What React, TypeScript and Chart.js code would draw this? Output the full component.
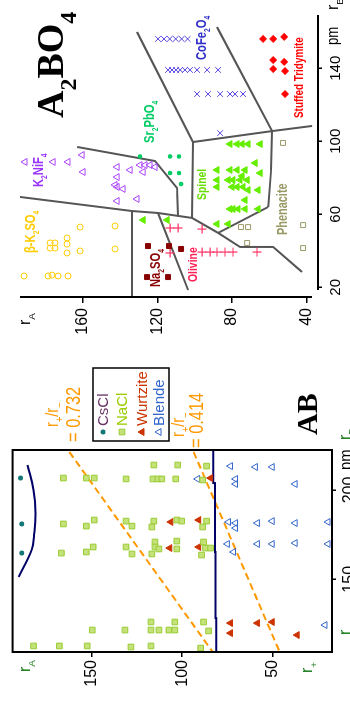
import React, { useEffect, useRef } from 'react';
import { Chart, registerables } from 'chart.js';
import { drawPoint } from 'chart.js/helpers';

Chart.register(...registerables);

// ---------------- AB panel (x: r_B / r_- in pm, y: r_A / r_+ in pm) ----------------
const abXTicks = [150, 200];
const abYTicks = [50, 100, 150];
const abLegendLabels = ['CsCl', 'NaCl', 'Wurtzite', 'Blende'];

const csclPts = [[206.7, 189.5], [181.0, 188.9], [164.7, 188.9]];
const naclPts = [
  [214.0, 115.7], [214.0, 102.5], [213.4, 86.5],
  [206.7, 165.8], [206.7, 153.1], [206.7, 148.7], [206.2, 131.1], [206.2, 116.2], [206.2, 113.5], [206.2, 111.3], [206.2, 103.6], [205.6, 88.7],
  [181.0, 165.8], [179.8, 153.1], [183.2, 148.7], [182.6, 131.1], [179.8, 127.8], [182.6, 115.7], [179.3, 116.8], [183.2, 103.0], [182.6, 100.3], [182.6, 86.5], [179.3, 88.7],
  [164.7, 166.9], [165.3, 153.1], [168.1, 149.3], [168.1, 131.1], [164.2, 127.8], [170.9, 115.1], [168.1, 115.1], [167.0, 112.9], [164.2, 116.8], [171.4, 103.0], [167.0, 103.0], [170.9, 88.2], [167.5, 87.1], [167.5, 84.3], [163.6, 89.3],
  [126.1, 117.3], [121.6, 117.3], [121.6, 112.9], [121.6, 107.4], [121.6, 104.1], [126.1, 104.1], [121.6, 149.8], [121.6, 131.7], [126.1, 88.2], [121.1, 85.4],
  [112.7, 182.3], [112.7, 168.0], [112.7, 152.6], [112.1, 128.4], [112.7, 117.3], [111.5, 89.8],
];
const wurtzitePts = [
  [206.7, 84.3], [182.1, 106.3], [183.2, 90.9], [167.5, 106.9], [168.1, 90.9],
  [125.5, 73.3], [125.5, 58.4], [126.1, 50.2], [119.9, 73.3], [118.8, 36.4],
];
const blendePts = [
  [213.4, 73.3], [212.9, 59.5], [212.9, 50.2], [206.2, 91.5], [206.2, 70.5], [203.4, 70.5], [203.4, 37.5],
  [182.1, 74.4], [181.5, 70.5], [178.7, 70.5], [181.5, 58.4], [182.6, 50.2], [181.5, 37.5], [182.1, 19.3],
  [169.8, 75.0], [165.3, 71.6], [169.8, 58.4], [169.8, 50.2], [170.3, 37.5], [169.8, 19.3], [124.4, 21.0],
];
const csclBoundary = [[214.0, 185.6], [200.0, 182.3], [187.0, 181.2], [175.0, 182.0], [166.4, 183.4], [151.3, 190.6]];
const ionicBoundary = [[222.4, 82.8], [203.9, 82.8], [203.9, 81.9], [165.3, 81.9], [165.3, 81.6], [128.3, 81.6], [128.3, 81.2], [109.3, 81.2]];
const ratio732Line = [[221.3, 162.5], [108.7, 82.7]];
const ratio414Line = [[221.3, 93.7], [108.7, 45.8]];

// ---------------- A2BO4 panel (x: r_B in pm, y: r_A in pm) ----------------
const a2XTicks = [20, 60, 100, 140];
const a2YTicks = [40, 80, 120, 160];

const cofe2o4Pts = [
  [156.1, 119.7], [156.1, 116.5], [156.1, 113.4], [156.1, 110.2], [156.1, 107.0], [156.1, 103.8],
  [139.1, 114.3], [139.1, 112.2], [139.1, 110.0], [139.1, 107.8], [139.1, 105.2], [139.1, 102.5], [139.1, 98.7], [139.1, 93.3], [139.1, 87.4],
  [125.9, 98.7], [125.9, 92.8], [125.9, 86.3], [125.9, 81.0], [125.9, 78.3], [125.9, 74.0],
  [104.5, 86.3],
];
const tridymitePts = [[156.1, 63.2], [156.1, 57.8], [157.2, 51.9], [144.5, 57.8], [143.5, 51.9], [139.6, 57.8], [138.5, 51.4], [125.9, 51.4]];
const phenacitePts = [[99.1, 52.5], [54.1, 41.7], [41.5, 41.7], [53.0, 75.1], [53.0, 71.3], [44.3, 71.8]];
const spinelPts = [
  [98.5, 81.0], [98.5, 77.2], [98.5, 74.5], [98.5, 71.3], [98.5, 64.8],
  [88.1, 67.5], [84.3, 88.0], [84.3, 81.0], [84.3, 77.2], [84.3, 72.9], [82.6, 64.8], [81.0, 74.5],
  [78.8, 88.0], [78.8, 82.0], [78.8, 79.4], [78.8, 75.6], [78.8, 71.8],
  [75.0, 88.0], [75.0, 79.9], [75.0, 77.2], [75.0, 74.0], [73.3, 71.3], [73.3, 65.9], [67.8, 72.9],
  [62.9, 81.0], [62.9, 79.4], [62.9, 76.7], [62.9, 72.9], [62.9, 65.9],
  [54.7, 88.0], [54.7, 82.0], [56.9, 127.7], [56.9, 114.8],
];
const sr2pbo4Pts = [[91.7, 129.4], [91.7, 113.2], [91.7, 108.4], [82.6, 113.2], [82.6, 108.4], [76.6, 107.3]];
const k2nif4Pts = [
  [88.7, 191.2], [88.7, 176.1], [88.7, 168.1], [92.5, 160.5], [83.2, 160.0], [85.9, 141.7], [84.3, 134.7],
  [87.0, 129.4], [87.0, 126.7], [87.0, 124.0], [85.9, 121.3], [83.2, 127.7], [80.4, 141.7], [76.1, 142.8],
  [75.0, 141.7], [73.9, 138.5], [67.3, 141.7], [68.4, 131.0],
];
const k2so4Pts = [
  [53.0, 161.6], [53.6, 142.8], [44.3, 177.7], [44.3, 175.1], [41.5, 177.7], [41.5, 175.1], [47.0, 168.6], [43.7, 168.6],
  [38.8, 168.6], [39.9, 161.6], [41.0, 142.8], [26.2, 191.7], [26.2, 178.8], [26.7, 176.7], [26.2, 173.4], [26.2, 168.1],
];
const na2so4Pts = [[42.6, 125.1], [42.6, 113.8], [41.0, 107.3], [25.6, 125.6], [25.6, 114.3]];
const olivinePts = [[52.5, 113.2], [52.5, 108.9], [51.9, 96.0], [38.8, 113.2], [39.3, 96.0], [39.3, 91.7], [39.3, 88.0], [39.3, 83.7], [39.3, 79.4], [39.3, 66.5]];

const fieldLine1 = [[159.9, 131.0], [99.6, 100.9], [58.0, 101.4]];
const fieldLine2 = [[99.6, 100.9], [105.6, 58.4], [108.4, 36.9]];
const fieldLine3 = [[162.6, 88.0], [105.6, 58.4]];
const fieldLine4 = [[105.6, 58.4], [84.3, 58.9], [64.0, 60.5]];
const fieldLine5 = [[49.8, 87.4], [64.0, 60.5]];
const fieldLine6 = [[96.9, 163.2], [89.2, 121.3], [74.4, 109.5], [59.1, 108.9]];
const fieldLine7 = [[69.5, 193.9], [61.8, 133.7], [60.7, 119.7], [58.0, 101.4], [49.8, 87.4], [42.1, 75.6], [42.1, 57.8], [28.4, 42.3]];
const fieldLine8 = [[61.8, 133.7], [14.1, 133.7]];
const fieldLine9 = [[60.7, 119.7], [18.5, 103.5]];

// ---------------- styles ----------------
const SANS = '"Liberation Sans", Arial, sans-serif';
const SERIF = '"Liberation Serif", "Times New Roman", serif';
const ORANGE = '#ff9900';
const AXGREEN = '#117711';
const NAVY = '#000066';
const GRAY = '#555555';

const P = (arr: number[][]) => arr.map(([x, y]) => ({ x, y }));

type Part = { t: string; sub?: boolean };
function drawRich(ctx: CanvasRenderingContext2D, parts: Part[], x: number, y: number, size: number, weight: string, color: string, opts: { family?: string; sx?: number; subScale?: number; subDy?: number } = {}) {
  const family = opts.family || SANS;
  const sx = opts.sx ?? 1;
  const subScale = opts.subScale ?? 0.62;
  const subDy = opts.subDy ?? 0.3;
  let cx = x;
  ctx.fillStyle = color;
  ctx.textAlign = 'left';
  ctx.textBaseline = 'alphabetic';
  for (const p of parts) {
    const s = p.sub ? size * subScale : size;
    ctx.font = `${weight} ${s}px ${family}`;
    ctx.save();
    ctx.translate(cx, y + (p.sub ? size * subDy : 0));
    ctx.scale(sx, 1);
    ctx.fillText(p.t, 0, 0);
    ctx.restore();
    cx += ctx.measureText(p.t).width * sx;
  }
}

const legendStyles = [
  { style: 'circle', r: 2.5, fill: '#117777', stroke: '#117777', bw: 0, text: '#663366' },
  { style: 'rect', r: 4, fill: '#c5e27a', stroke: '#99cc33', bw: 1, text: '#99cc00' },
  { style: 'triangle', r: 4, fill: '#cc3300', stroke: '#cc3300', bw: 1, text: '#cc3300' },
  { style: 'triangle', r: 4, fill: 'rgba(0,0,0,0)', stroke: '#3366cc', bw: 1, text: '#3366cc' },
];

const NARROW = 0.82;

const abDecor = {
  id: 'abDecor',
  afterDraw(chart: any) {
    const { ctx, chartArea: a } = chart;
    ctx.save();
    ctx.strokeStyle = '#000';
    ctx.lineWidth = 2;
    ctx.strokeRect(a.left, a.top, a.right - a.left, a.bottom - a.top);
    // legend box
    ctx.lineWidth = 1.5;
    ctx.strokeRect(266, 93, 73, 76);
    const rows = [103, 122, 142, 159];
    abLegendLabels.forEach((lab, i) => {
      const st = legendStyles[i];
      ctx.fillStyle = st.fill;
      ctx.strokeStyle = st.stroke;
      ctx.lineWidth = 1;
      drawPoint(ctx, { pointStyle: st.style, radius: st.r, rotation: 0, borderWidth: st.bw } as any, 275, rows[i]);
      ctx.fillStyle = st.text;
      ctx.font = `15px ${SANS}`;
      ctx.textAlign = 'left';
      ctx.textBaseline = 'middle';
      ctx.fillText(lab, 281, rows[i] + 1);
    });
    // ratio annotations
    const rr: Part[] = [{ t: 'r' }, { t: '+', sub: true }, { t: '/r' }, { t: '−', sub: true }];
    drawRich(ctx, rr, 280, 58, 18, 'normal', ORANGE, { sx: NARROW });
    drawRich(ctx, [{ t: '= 0.732' }], 265, 80, 20, 'normal', ORANGE, { sx: NARROW });
    drawRich(ctx, rr, 270, 184, 18, 'normal', ORANGE, { sx: NARROW });
    drawRich(ctx, [{ t: '= 0.414' }], 259, 203, 20, 'normal', ORANGE, { sx: NARROW });
    // title
    ctx.fillStyle = '#000';
    ctx.font = `bold 30px ${SERIF}`;
    ctx.textBaseline = 'alphabetic';
    ctx.fillText('AB', 272, 317);
    // axis names
    drawRich(ctx, [{ t: 'r' }, { t: 'A', sub: true }], 35, 30, 16, 'normal', AXGREEN);
    drawRich(ctx, [{ t: 'r' }, { t: '+', sub: true }], 34, 312, 16, 'normal', AXGREEN);
    drawRich(ctx, [{ t: 'r' }, { t: '−', sub: true }], 72, 350, 16, 'normal', AXGREEN);
    drawRich(ctx, [{ t: 'r' }, { t: 'B', sub: true }], 267, 350, 16, 'normal', AXGREEN);
    drawRich(ctx, [{ t: 'pm' }], 237, 352, 18, 'normal', '#000', { sx: NARROW });
    ctx.restore();
  },
};

const a2Decor = {
  id: 'a2Decor',
  afterDraw(chart: any) {
    const { ctx, chartArea: a } = chart;
    ctx.save();
    ctx.strokeStyle = '#000';
    ctx.lineWidth = 2;
    ctx.beginPath();
    ctx.moveTo(a.left, a.top);
    ctx.lineTo(a.left, a.bottom - 6);
    ctx.moveTo(a.left + 7, a.bottom);
    ctx.lineTo(a.right, a.bottom);
    ctx.stroke();
    // title A2BO4
    drawRich(ctx, [{ t: 'A' }, { t: '2', sub: true }, { t: 'BO' }, { t: '4', sub: true }], 589, 63, 38, 'bold', '#000', { family: SERIF, subScale: 0.63, subDy: 0.34 });
    // axis names
    drawRich(ctx, [{ t: 'r' }, { t: 'A', sub: true }], 382, 30, 16, 'normal', '#000');
    drawRich(ctx, [{ t: 'pm' }], 662, 338, 16, 'normal', '#000', { sx: NARROW });
    drawRich(ctx, [{ t: 'r' }, { t: 'B', sub: true }], 697, 338, 16, 'normal', '#000');
    // structure field labels
    const L = (parts: Part[], x: number, y: number, c: string, size = 14, sx = 0.8) =>
      drawRich(ctx, parts, x, y, size, 'bold', c, { sx, subScale: 0.6, subDy: 0.3 });
    L([{ t: 'Stuffed Tridymite' }], 589, 303, '#ff0000', 13, 0.76);
    L([{ t: 'CoFe' }, { t: '2', sub: true }, { t: 'O' }, { t: '4', sub: true }], 647, 206, '#3333cc');
    L([{ t: 'Sr' }, { t: '2', sub: true }, { t: 'PbO' }, { t: '4', sub: true }], 564, 154, '#00cc66');
    L([{ t: 'K' }, { t: '2', sub: true }, { t: 'NiF' }, { t: '4', sub: true }], 520, 43, '#9933ff');
    L([{ t: 'β-K' }, { t: '2', sub: true }, { t: 'SO' }, { t: '4', sub: true }], 454, 35, '#ffcc00');
    L([{ t: 'Na' }, { t: '2', sub: true }, { t: 'SO' }, { t: '4', sub: true }], 420, 160, '#880000');
    L([{ t: 'Olivine' }], 425, 197, '#ff2255', 13);
    L([{ t: 'Spinel' }], 507, 206, '#66dd00', 13);
    L([{ t: 'Phenacite' }], 472, 287, '#999966', 14, 0.78);
    ctx.restore();
  },
};

const pts = (data: number[][], style: string, r: number, fill: string, stroke: string, bw = 1) => ({
  data: P(data),
  pointStyle: style,
  pointRadius: r,
  pointBackgroundColor: fill,
  pointBorderColor: stroke,
  pointBorderWidth: bw,
  showLine: false,
  clip: 6,
});
const line = (data: number[][], color: string, width: number, extra: any = {}) => ({
  data: P(data),
  showLine: true,
  pointRadius: 0,
  borderColor: color,
  borderWidth: width,
  fill: false,
  ...extra,
});

const scaleCfg = (min: number, max: number, ticks: number[], fitKey: 'width' | 'height', fitVal: number, tickLength: number, pad: number, fontSize: number) => ({
  type: 'linear',
  min,
  max,
  afterBuildTicks: (s: any) => { s.ticks = ticks.map((v) => ({ value: v })); },
  afterFit: (s: any) => { s[fitKey] = fitVal; },
  ticks: { color: '#000', font: { family: SANS, size: fontSize }, padding: pad, autoSkip: false, maxRotation: 0, minRotation: 0 },
  grid: { display: true, drawOnChartArea: false, drawTicks: true, tickLength, color: '#000', lineWidth: 1.5 },
  border: { display: false },
});

export default function App() {
  const abRef = useRef<HTMLCanvasElement>(null);
  const a2Ref = useRef<HTMLCanvasElement>(null);

  useEffect(() => {
    const ab = new Chart(abRef.current as HTMLCanvasElement, {
      type: 'scatter',
      data: {
        datasets: [
          pts(csclPts, 'circle', 2.5, '#117777', '#117777', 0),
          pts(naclPts, 'rect', 4, '#c5e27a', '#99cc33', 1),
          pts(wurtzitePts, 'triangle', 4, '#cc3300', '#cc3300', 1),
          pts(blendePts, 'triangle', 4, 'rgba(0,0,0,0)', '#3366cc', 1),
          line(csclBoundary, NAVY, 2, { tension: 0.4 }),
          line(ionicBoundary, NAVY, 2),
          line(ratio732Line, ORANGE, 2, { borderDash: [7, 4] }),
          line(ratio414Line, ORANGE, 2, { borderDash: [7, 4] }),
        ] as any,
      },
      options: {
        animation: false,
        responsive: false,
        events: [],
        layout: { padding: { left: 0, right: 450, top: 11, bottom: 0 } },
        plugins: { legend: { display: false }, tooltip: { enabled: false } },
        scales: {
          x: scaleCfg(109.3, 222.4, abXTicks, 'height', 18, 4, 4, 16),
          y: scaleCfg(17.1, 193.9, abYTicks, 'width', 55, 5, 3, 16),
        } as any,
      },
      plugins: [abDecor],
    });

    const a2 = new Chart(a2Ref.current as HTMLCanvasElement, {
      type: 'scatter',
      data: {
        datasets: [
          pts(cofe2o4Pts, 'crossRot', 4, '#5544dd', '#5544dd', 1),
          pts(tridymitePts, 'rectRot', 3.5, '#ff0000', '#ff0000', 1),
          pts(phenacitePts, 'rect', 3.5, 'rgba(0,0,0,0)', '#999966', 1),
          pts(spinelPts, 'triangle', 4, '#66ee00', '#66ee00', 1),
          pts(sr2pbo4Pts, 'circle', 2.3, '#00cc66', '#00cc66', 0),
          pts(k2nif4Pts, 'triangle', 4, 'rgba(0,0,0,0)', '#aa44ff', 1),
          pts(k2so4Pts, 'circle', 3, 'rgba(0,0,0,0)', '#ffcc00', 1),
          pts(na2so4Pts, 'rect', 3.5, '#880000', '#880000', 1),
          pts(olivinePts, 'cross', 4.5, '#ff3366', '#ff3366', 1.2),
          line(fieldLine1, GRAY, 2),
          line(fieldLine2, GRAY, 2),
          line(fieldLine3, GRAY, 2),
          line(fieldLine4, GRAY, 2),
          line(fieldLine5, GRAY, 2),
          line(fieldLine6, GRAY, 2),
          line(fieldLine7, GRAY, 2),
          line(fieldLine8, GRAY, 2),
          line(fieldLine9, GRAY, 2),
        ] as any,
      },
      options: {
        animation: false,
        responsive: false,
        events: [],
        layout: { padding: { left: 350, right: 15, top: 20, bottom: 0 } },
        plugins: { legend: { display: false }, tooltip: { enabled: false } },
        scales: {
          x: scaleCfg(14.68, 169.2, a2XTicks, 'height', 32, 4, 5, 15),
          y: scaleCfg(33.7, 193.9, a2YTicks, 'width', 60, 6, 5, 16),
        } as any,
      },
      plugins: [a2Decor],
    });

    return () => {
      ab.destroy();
      a2.destroy();
    };
  }, []);

  return (
    <div
      style={{
        position: 'fixed',
        left: 0,
        top: 0,
        width: 707,
        height: 350,
        transformOrigin: '0 0',
        transform: 'translateY(707px) rotate(-90deg)',
        background: '#fff',
        overflow: 'hidden',
      }}
    >
      <canvas ref={abRef} width={707} height={350} style={{ position: 'absolute', left: 0, top: 0 }} />
      <canvas ref={a2Ref} width={707} height={350} style={{ position: 'absolute', left: 0, top: 0 }} />
    </div>
  );
}
